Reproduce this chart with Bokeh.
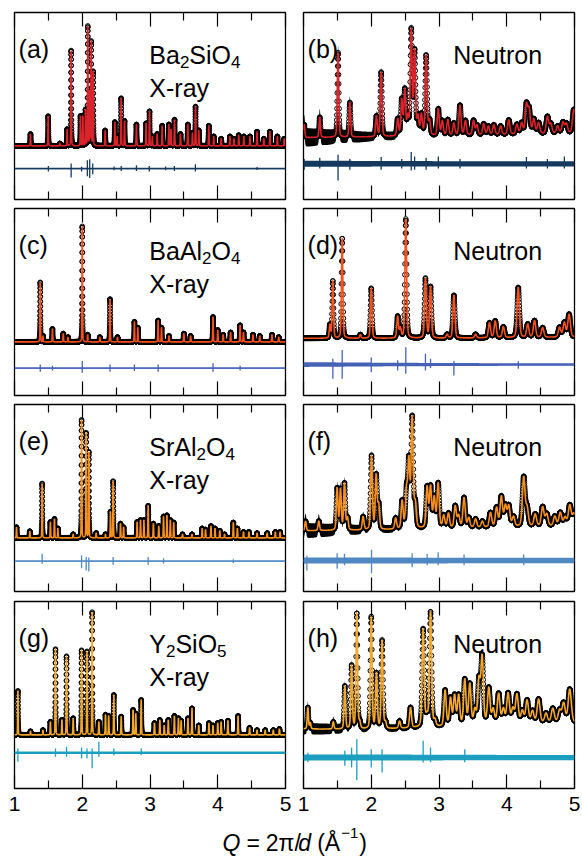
import numpy as np
from bokeh.plotting import figure
from bokeh.layouts import column, row
from bokeh.models import Range1d, FixedTicker, LinearAxis
from bokeh.core.properties import value
from bokeh.embed import file_html
from bokeh.resources import INLINE

FONT = "Liberation Sans"

# ------------------------------------------------------------------
# Reflection tables: peak position Q (1/Å) and normalised peak height
# ------------------------------------------------------------------
# (a) Ba2SiO4, X-ray
A_POS = [1.236, 1.497, 1.669, 1.777, 1.836, 1.974, 2.009, 2.048, 2.082, 2.110,
         2.132, 2.161, 2.338, 2.481, 2.515, 2.574, 2.624, 2.800, 2.943, 2.993,
         3.035, 3.106, 3.180, 3.278, 3.310, 3.362, 3.450, 3.558, 3.627, 3.672,
         3.720, 3.868, 3.940, 4.050, 4.180, 4.240, 4.310, 4.385, 4.475, 4.580,
         4.680, 4.770, 4.880, 4.980]
A_HT = [0.10, 0.25, 0.02, 0.14, 0.80, 0.25, 0.25, 0.30, 1.00, 0.45,
        0.87, 0.62, 0.13, 0.20, 0.08, 0.40, 0.21, 0.18, 0.19, 0.29,
        0.08, 0.10, 0.17, 0.18, 0.14, 0.22, 0.10, 0.18, 0.11, 0.33,
        0.13, 0.17, 0.08, 0.06, 0.08, 0.06, 0.09, 0.08, 0.08, 0.12,
        0.06, 0.12, 0.08, 0.06]

# (b) Ba2SiO4, neutron
B_POS = [1.010, 1.240, 1.510, 1.684, 2.077, 2.146, 2.390, 2.450, 2.495, 2.540,
         2.590, 2.640, 2.690, 2.740, 2.810, 2.860, 2.990, 3.050, 3.130, 3.220,
         3.310, 3.390, 3.510, 3.560, 3.660, 3.730, 3.810, 3.910, 4.030, 4.150,
         4.220, 4.290, 4.330, 4.400, 4.470, 4.600, 4.650, 4.750, 4.830, 4.880,
         4.990]
B_HT = [0.11, 0.17, 0.71, 0.29, 0.17, 0.54, 0.14, 0.30, 0.38, 0.15,
        0.88, 0.70, 0.15, 0.17, 0.67, 0.12, 0.22, 0.12, 0.13, 0.10,
        0.25, 0.12, 0.12, 0.08, 0.09, 0.07, 0.08, 0.07, 0.12, 0.08,
        0.09, 0.24, 0.20, 0.12, 0.09, 0.14, 0.08, 0.06, 0.09, 0.08,
        0.20]

# (c) BaAl2O4, X-ray
C_POS = [1.380, 1.420, 1.560, 1.720, 1.790, 2.000, 2.080, 2.260, 2.410, 2.520,
         2.770, 2.820, 3.120, 3.170, 3.280, 3.500, 3.600, 3.930, 4.000, 4.080,
         4.190, 4.330, 4.380, 4.520, 4.620, 4.800, 4.900]
C_HT = [0.50, 0.05, 0.11, 0.07, 0.04, 0.97, 0.06, 0.04, 0.36, 0.04,
        0.17, 0.12, 0.18, 0.12, 0.05, 0.07, 0.05, 0.21, 0.10, 0.06,
        0.08, 0.14, 0.08, 0.06, 0.05, 0.06, 0.04]

# (d) BaAl2O4, neutron
D_POS = [1.390, 1.433, 1.571, 1.840, 2.000, 2.390, 2.430, 2.510, 2.800, 2.875,
         3.120, 3.220, 3.540, 3.745, 3.830, 3.950, 4.170, 4.310, 4.410, 4.530,
         4.780, 4.850, 4.920]
D_HT = [0.11, 0.48, 0.84, 0.03, 0.42, 0.18, 0.08, 1.00, 0.50, 0.43,
        0.03, 0.36, 0.03, 0.125, 0.14, 0.09, 0.42, 0.11, 0.14, 0.08,
        0.08, 0.12, 0.19]

# (e) SrAl2O4, X-ray
E_POS = [1.030, 1.226, 1.408, 1.530, 1.590, 1.640, 1.866, 1.990, 2.058, 2.097,
         2.205, 2.343, 2.417, 2.456, 2.565, 2.610, 2.810, 2.860, 2.910, 2.973,
         3.050, 3.130, 3.200, 3.250, 3.300, 3.350, 3.480, 3.620, 3.770, 3.820,
         3.900, 3.960, 4.030, 4.100, 4.230, 4.290, 4.380, 4.460, 4.580, 4.730,
         4.850, 4.920]
E_HT = [0.09, 0.056, 0.457, 0.134, 0.16, 0.08, 0.03, 0.99, 0.88, 0.72,
        0.04, 0.03, 0.22, 0.476, 0.12, 0.09, 0.134, 0.15, 0.15, 0.27,
        0.12, 0.10, 0.18, 0.19, 0.15, 0.13, 0.03, 0.03, 0.08, 0.07,
        0.10, 0.08, 0.06, 0.03, 0.13, 0.08, 0.05, 0.05, 0.04, 0.04,
        0.05, 0.05]

# (f) SrAl2O4, neutron
F_POS = [1.030, 1.226, 1.497, 1.546, 1.605, 1.650, 1.880, 2.004, 2.073, 2.110,
         2.360, 2.456, 2.520, 2.555, 2.604, 2.650, 2.825, 2.875, 2.930, 2.988,
         3.070, 3.140, 3.240, 3.290, 3.370, 3.440, 3.540, 3.640, 3.760, 3.850,
         3.920, 3.980, 4.030, 4.100, 4.250, 4.300, 4.420, 4.530, 4.590, 4.710,
         4.790, 4.860, 4.930, 4.990]
F_HT = [0.08, 0.08, 0.35, 0.34, 0.39, 0.10, 0.11, 0.62, 0.45, 0.20,
        0.09, 0.23, 0.30, 0.55, 0.92, 0.20, 0.34, 0.34, 0.25, 0.37,
        0.10, 0.12, 0.18, 0.10, 0.25, 0.08, 0.07, 0.05, 0.12, 0.16,
        0.25, 0.17, 0.17, 0.08, 0.41, 0.15, 0.10, 0.16, 0.10, 0.08,
        0.11, 0.07, 0.17, 0.10]

# (g) Y2SiO5, X-ray
G_POS = [1.050, 1.236, 1.420, 1.530, 1.605, 1.700, 1.768, 1.866, 1.990, 2.070,
         2.146, 2.245, 2.343, 2.390, 2.466, 2.575, 2.750, 2.790, 2.870, 3.066,
         3.145, 3.210, 3.270, 3.360, 3.420, 3.460, 3.560, 3.620, 3.720, 3.870,
         3.930, 4.000, 4.050, 4.150, 4.300, 4.470, 4.580, 4.700, 4.820, 4.910]
G_HT = [0.37, 0.03, 0.04, 0.11, 0.72, 0.126, 0.66, 0.14, 0.71, 0.70,
        1.03, 0.11, 0.17, 0.16, 0.336, 0.154, 0.21, 0.18, 0.294, 0.10,
        0.126, 0.08, 0.126, 0.16, 0.14, 0.12, 0.14, 0.224, 0.08, 0.10,
        0.08, 0.10, 0.11, 0.12, 0.16, 0.06, 0.04, 0.04, 0.04, 0.05]

# (h) Y2SiO5, neutron
H_POS = [1.064, 1.100, 1.440, 1.610, 1.710, 1.787, 1.830, 2.000, 2.077, 2.160,
         2.210, 2.417, 2.580, 2.766, 2.820, 2.875, 2.940, 3.090, 3.170, 3.230,
         3.290, 3.380, 3.455, 3.530, 3.590, 3.637, 3.735, 3.800, 3.880, 3.950,
         4.020, 4.090, 4.150, 4.230, 4.300, 4.380, 4.470, 4.580, 4.680, 4.780,
         4.840, 4.930]
H_HT = [0.18, 0.05, 0.06, 0.36, 0.53, 0.97, 0.05, 0.94, 0.46, 0.74,
        0.05, 0.06, 0.17, 0.82, 0.08, 0.96, 0.05, 0.30, 0.23, 0.25,
        0.25, 0.38, 0.34, 0.12, 0.36, 0.56, 0.30, 0.12, 0.25, 0.12,
        0.25, 0.12, 0.24, 0.10, 0.19, 0.10, 0.20, 0.08, 0.12, 0.10,
        0.16, 0.28]

# Peak widths (FWHM, 1/Å) at Q = 1 and Q = 5
FW_Q = [1.0, 5.0]
A_FW = [0.008, 0.010]
B_FW = [0.022, 0.045]
C_FW = [0.008, 0.010]
D_FW = [0.020, 0.045]
E_FW = [0.008, 0.010]
F_FW = [0.025, 0.050]
G_FW = [0.008, 0.010]
H_FW = [0.020, 0.055]

# Backgrounds, scatter envelope of the measured points and half-width of the
# difference band, all given at Q = 1, 2, 3, 4, 5
KNOT_Q = [1.0, 2.0, 3.0, 4.0, 5.0]
ZERO5 = [0.0, 0.0, 0.0, 0.0, 0.0]
B_BG = [0.070, 0.075, 0.085, 0.095, 0.105]
D_BG = [0.030, 0.030, 0.030, 0.035, 0.040]
F_BG = [0.060, 0.065, 0.080, 0.090, 0.100]
H_BG = [0.050, 0.045, 0.065, 0.090, 0.100]

B_NOISE = [0.080, 0.040, 0.028, 0.025, 0.025]
D_NOISE = [0.008, 0.008, 0.008, 0.008, 0.008]
F_NOISE = [0.065, 0.035, 0.028, 0.025, 0.025]
H_NOISE = [0.050, 0.035, 0.025, 0.025, 0.025]

A_DBAND = [0.006, 0.006, 0.006, 0.006, 0.006]
B_DBAND = [0.025, 0.024, 0.022, 0.022, 0.022]
C_DBAND = [0.005, 0.005, 0.005, 0.005, 0.005]
D_DBAND = [0.020, 0.016, 0.013, 0.011, 0.010]
E_DBAND = [0.006, 0.006, 0.006, 0.006, 0.006]
F_DBAND = [0.026, 0.025, 0.024, 0.023, 0.023]
G_DBAND = [0.010, 0.010, 0.010, 0.010, 0.010]
H_DBAND = [0.026, 0.025, 0.024, 0.022, 0.022]

# Difference-curve offsets below the pattern
D_OFFSETS = [-0.19, -0.15, -0.22, -0.19, -0.195, -0.19, -0.15, -0.19]

# Largest excursions of the difference curves: position, up, down
A_SPK_Q = [1.500, 1.836, 1.990, 2.075, 2.110, 2.155, 2.470, 2.575, 2.800, 2.990, 3.230, 3.360, 3.670, 4.580]
A_SPK_UP = [0.022, 0.042, 0.014, 0.070, 0.078, 0.042, 0.018, 0.022, 0.028, 0.022, 0.018, 0.022, 0.036, 0.012]
A_SPK_DN = [0.025, 0.076, 0.025, 0.064, 0.080, 0.048, 0.015, 0.020, 0.020, 0.025, 0.015, 0.020, 0.025, 0.012]
B_SPK_Q = [1.010, 1.240, 1.510, 1.684, 2.146, 2.450, 2.590, 2.640, 2.810, 2.990, 3.310, 4.290, 4.600, 4.850]
B_SPK_UP = [0.04, 0.05, 0.076, 0.04, 0.056, 0.04, 0.098, 0.06, 0.05, 0.06, 0.04, 0.056, 0.04, 0.06]
B_SPK_DN = [0.05, 0.04, 0.14, 0.05, 0.05, 0.04, 0.056, 0.05, 0.05, 0.04, 0.04, 0.04, 0.04, 0.04]
C_SPK_Q = [1.380, 1.560, 2.000, 2.410, 2.770, 3.120, 3.930, 4.330]
C_SPK_UP = [0.03, 0.02, 0.06, 0.03, 0.03, 0.03, 0.04, 0.02]
C_SPK_DN = [0.03, 0.02, 0.04, 0.03, 0.025, 0.03, 0.03, 0.02]
D_SPK_Q = [1.433, 1.571, 2.000, 2.390, 2.510, 2.800, 2.875, 3.220, 4.170]
D_SPK_UP = [0.048, 0.123, 0.060, 0.036, 0.146, 0.090, 0.048, 0.030, 0.028]
D_SPK_DN = [0.120, 0.120, 0.064, 0.050, 0.078, 0.050, 0.030, 0.092, 0.036]
E_SPK_Q = [1.408, 1.990, 2.058, 2.097, 2.456, 2.973, 3.200, 4.230]
E_SPK_UP = [0.062, 0.048, 0.034, 0.030, 0.034, 0.034, 0.025, 0.015]
E_SPK_DN = [0.022, 0.059, 0.078, 0.087, 0.030, 0.030, 0.020, 0.015]
F_SPK_Q = [1.050, 1.497, 1.605, 2.004, 2.604, 2.825, 2.988, 3.370, 4.250]
F_SPK_UP = [0.04, 0.062, 0.056, 0.090, 0.062, 0.056, 0.070, 0.05, 0.05]
F_SPK_DN = [0.084, 0.070, 0.04, 0.106, 0.056, 0.04, 0.04, 0.04, 0.04]
G_SPK_Q = [1.050, 1.605, 1.768, 1.990, 2.070, 2.146, 2.245, 2.466, 2.870]
G_SPK_UP = [0.036, 0.036, 0.050, 0.045, 0.036, 0.036, 0.092, 0.036, 0.036]
G_SPK_DN = [0.076, 0.034, 0.034, 0.048, 0.048, 0.130, 0.034, 0.020, 0.020]
H_SPK_Q = [1.064, 1.610, 1.710, 1.787, 2.000, 2.160, 2.766, 2.875, 3.380]
H_SPK_UP = [0.04, 0.056, 0.084, 0.154, 0.070, 0.070, 0.140, 0.084, 0.070]
H_SPK_DN = [0.04, 0.070, 0.084, 0.190, 0.084, 0.126, 0.042, 0.040, 0.040]

# Fit and difference colours per compound
FIT_COLORS = ["#d8242a", "#d8242a", "#f5521f", "#f5521f", "#f7901e", "#f7901e", "#f6a82a", "#f6a82a"]
DIFF_COLORS = ["#163a5e", "#163a5e", "#4562b4", "#4562b4", "#5088c2", "#5088c2", "#1c9ec0", "#1c9ec0"]

TAGS = ["(a)", "(b)", "(c)", "(d)", "(e)", "(f)", "(g)", "(h)"]
FORMULAS = [[("Ba", 0), ("2", 1), ("SiO", 0), ("4", 1)],
            [("BaAl", 0), ("2", 1), ("O", 0), ("4", 1)],
            [("SrAl", 0), ("2", 1), ("O", 0), ("4", 1)],
            [("Y", 0), ("2", 1), ("SiO", 0), ("5", 1)]]

TICKS = [1, 2, 3, 4, 5]
MINOR_TICKS = [1.5, 2.5, 3.5, 4.5]

XRAY_STEP = 0.0005
NEUT_STEP = 0.002

LABEL_SIZE = 25
SUB_SIZE = 17

# Arial/Liberation advance widths (1/1000 em) used to lay out composed labels
ADV = {'B': 667, 'a': 556, 'S': 667, 'i': 222, 'O': 778, 'A': 667, 'l': 222, 'r': 333,
       'Y': 667, 'X': 667, '-': 333, 'y': 500, 'N': 722, 'e': 556, 'u': 556, 't': 278,
       'o': 556, 'n': 556, '(': 333, ')': 333, ' ': 278, '=': 584, 'π': 580, '/': 278,
       'd': 556, 'Q': 778, 'Å': 667, '−': 584}


def width_px(s, size):
    return sum(ADV.get(c, 556) for c in s) * size / 1000.0


def pattern(q, pos, ht, fw, bg, eta=0.3):
    widths = np.interp(pos, FW_Q, fw)
    y = np.interp(q, KNOT_Q, bg).copy()
    for p0, h, w in zip(pos, ht, widths):
        d = (q - p0) / (w / 2.0)
        y += h * (eta / (1.0 + d * d) + (1.0 - eta) * np.exp(-np.log(2.0) * d * d))
    return y


def draw_pieces(p, x0, y0, pieces):
    """pieces: (text, size, dy, style, gap_after_px)"""
    off = 0.0
    for s, size, dy, style, gap in pieces:
        p.text(x=[x0], y=[y0], text=[s], x_offset=off, y_offset=dy,
               text_font=value(FONT), text_font_size=f"{size}px",
               text_font_style=style, text_baseline="alphabetic",
               text_align="left", text_color="black")
        off += width_px(s, size) + gap


def style_axis(ax, show_labels):
    ax.ticker = FixedTicker(ticks=TICKS, minor_ticks=MINOR_TICKS)
    ax.axis_line_color = None
    ax.major_tick_in = 14
    ax.major_tick_out = 0
    ax.minor_tick_in = 8
    ax.minor_tick_out = 0
    ax.major_tick_line_color = "black"
    ax.minor_tick_line_color = "black"
    ax.major_tick_line_width = 1.2
    ax.minor_tick_line_width = 1.2
    if show_labels:
        ax.major_label_text_font = FONT
        ax.major_label_text_font_size = "21px"
        ax.major_label_text_color = "black"
        ax.major_label_standoff = 8
    else:
        ax.major_label_overrides = {t: "" for t in TICKS}
        ax.major_label_text_font_size = "1px"
        ax.major_label_standoff = 0


DATA = [
    (A_POS, A_HT, A_FW, ZERO5, ZERO5, A_DBAND, A_SPK_Q, A_SPK_UP, A_SPK_DN, True),
    (B_POS, B_HT, B_FW, B_BG, B_NOISE, B_DBAND, B_SPK_Q, B_SPK_UP, B_SPK_DN, False),
    (C_POS, C_HT, C_FW, ZERO5, ZERO5, C_DBAND, C_SPK_Q, C_SPK_UP, C_SPK_DN, True),
    (D_POS, D_HT, D_FW, D_BG, D_NOISE, D_DBAND, D_SPK_Q, D_SPK_UP, D_SPK_DN, False),
    (E_POS, E_HT, E_FW, ZERO5, ZERO5, E_DBAND, E_SPK_Q, E_SPK_UP, E_SPK_DN, True),
    (F_POS, F_HT, F_FW, F_BG, F_NOISE, F_DBAND, F_SPK_Q, F_SPK_UP, F_SPK_DN, False),
    (G_POS, G_HT, G_FW, ZERO5, ZERO5, G_DBAND, G_SPK_Q, G_SPK_UP, G_SPK_DN, True),
    (H_POS, H_HT, H_FW, H_BG, H_NOISE, H_DBAND, H_SPK_Q, H_SPK_UP, H_SPK_DN, False),
]


def make_panel(i):
    r, c = divmod(i, 2)
    pos, ht, fw, bg, noise, dband, sq, sup, sdn, xray = DATA[i]
    left = c == 0
    mbt = 12 if r == 0 else (5 if r == 3 else 4)
    mbb = 34 if r == 3 else 5
    p = figure(width=294 if left else 288, height=mbt + 187 + mbb,
               x_range=Range1d(1, 5), y_range=Range1d(-0.45, 1.12),
               output_backend="svg", toolbar_location=None,
               x_axis_location="below", y_axis_location=None,
               min_border_left=14 if left else 9, min_border_right=9 if left else 8,
               min_border_top=mbt, min_border_bottom=mbb)
    p.grid.visible = False
    p.outline_line_color = "black"
    p.outline_line_width = 1.3
    p.background_fill_color = "white"
    p.border_fill_color = "white"

    style_axis(p.xaxis[0], r == 3)
    top = LinearAxis()
    style_axis(top, False)
    p.add_layout(top, "above")

    step = XRAY_STEP if xray else NEUT_STEP
    q = np.arange(1.0, 5.0 + step / 2, step)
    calc = pattern(q, pos, ht, fw, bg)

    hw = np.interp(q, KNOT_Q, noise)
    if not xray:
        p.varea(x=q, y1=calc - hw, y2=calc + hw, fill_color="black")
    p.scatter(q, calc, marker="circle", size=4.6, fill_alpha=0,
              line_color="black", line_width=1.0)
    p.line(q, calc, line_color=FIT_COLORS[i], line_width=1.6)

    off = D_OFFSETS[i]
    qd = np.arange(1.0, 5.0 + 0.01, 0.01)
    dhw = np.interp(qd, KNOT_Q, dband)
    p.varea(x=qd, y1=off - dhw, y2=off + dhw, fill_color=DIFF_COLORS[i])
    p.line([1, 5], [off, off], line_color=DIFF_COLORS[i], line_width=1.2)
    p.segment(x0=sq, y0=[off + u for u in sup], x1=sq, y1=[off - d for d in sdn],
              line_color=DIFF_COLORS[i], line_width=1.3)

    # panel annotations
    draw_pieces(p, 1.06, 0.815, [(TAGS[i], LABEL_SIZE, 0, "normal", 0)])
    if xray:
        pieces = [(s, SUB_SIZE if sub else LABEL_SIZE, 7 if sub else 0, "normal", 0)
                  for s, sub in FORMULAS[r]]
        draw_pieces(p, 2.99, 0.759, pieces)
        draw_pieces(p, 2.99, 0.487, [("X-ray", LABEL_SIZE, 0, "normal", 0)])
    else:
        draw_pieces(p, 3.21, 0.759, [("Neutron", LABEL_SIZE, 0, "normal", 0)])
    return p


panels = [make_panel(i) for i in range(8)]

# shared axis title below both columns
title = figure(width=582, height=38, x_range=Range1d(0, 582), y_range=Range1d(0, 38),
               output_backend="svg", toolbar_location=None,
               x_axis_location=None, y_axis_location=None,
               min_border=0, outline_line_color=None)
title.grid.visible = False
draw_pieces(title, 222, 18, [("Q", 23, 0, "italic", 6), ("=", 23, 0, "normal", 6),
                             ("2π/", 23, 0, "normal", 0), ("d", 23, 0, "italic", 6),
                             ("(Å", 23, 0, "normal", 1), ("−1", 15, -10, "normal", 1),
                             (")", 23, 0, "normal", 0)])

layout = column(row(panels[0], panels[1]), row(panels[2], panels[3]),
                row(panels[4], panels[5]), row(panels[6], panels[7]), title)

with open("out.html", "w") as f:
    f.write(file_html(layout, INLINE))
